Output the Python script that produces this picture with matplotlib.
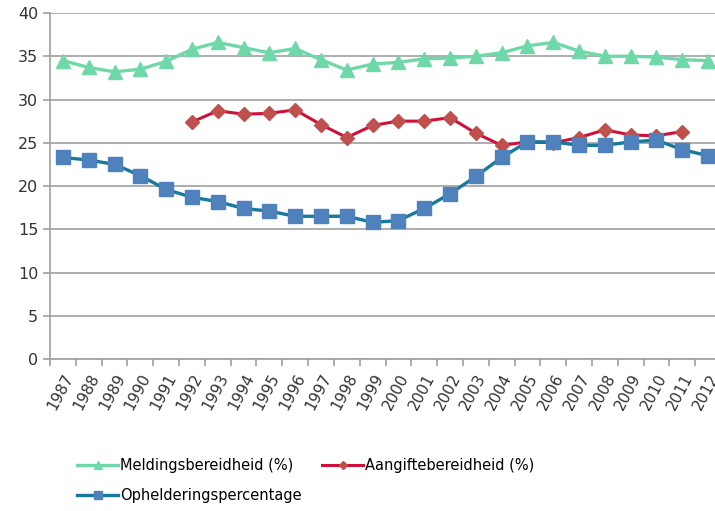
import matplotlib
matplotlib.use("Agg")
import matplotlib.pyplot as plt
import numpy as np

years = list(range(1987, 2013))

melding = [34.5, 33.7, 33.2, 33.5, 34.4, 35.8, 36.6, 36.0, 35.4, 35.9, 34.6, 33.4, 34.1,
           34.3, 34.7, 34.8, 35.0, 35.4, 36.2, 36.6, 35.6, 35.0, 35.0, 34.9, 34.6, 34.5]

# aangifte only from 1992 to 2011
aangifte_years = list(range(1992, 2012))
aangifte = [27.4, 28.7, 28.3, 28.4, 28.8, 27.1, 25.6, 27.0, 27.5, 27.5,
            27.9, 26.1, 24.7, 25.1, 25.0, 25.6, 26.5, 25.9, 25.8, 26.3]

opheldering = [23.3, 23.0, 22.5, 21.2, 19.6, 18.7, 18.2, 17.4, 17.1, 16.5, 16.5, 16.5, 15.8,
               16.0, 17.4, 19.1, 21.1, 23.3, 25.1, 25.1, 24.7, 24.7, 25.1, 25.3, 24.2, 23.5]

labels = ["Meldingsbereidheid (%)", "Aangiftebereidheid (%)", "Ophelderingspercentage"]

W, H = 715, 511
fig = plt.figure(figsize=(W / 100, H / 100), dpi=100)
ax = fig.add_axes([50 / W, 1 - 359 / H, 671 / W, 346 / H])

x = np.arange(len(years))
xa = np.array([years.index(y) for y in aangifte_years])

l1, = ax.plot(x, melding, color="#6fd8a8", lw=2.4, marker="^", ms=10,
              mfc="#6fd8a8", mec="#6fd8a8", label=labels[0], clip_on=False, zorder=3)
l2, = ax.plot(xa, aangifte, color="#d0103a", lw=2.2, marker="D", ms=7,
              mfc="#c0504d", mec="#c0504d", label=labels[1], clip_on=False, zorder=4)
l3, = ax.plot(x, opheldering, color="#17799b", lw=2.4, marker="s", ms=10,
              mfc="#4f81bd", mec="#4f81bd", label=labels[2], clip_on=False, zorder=5)

ax.set_xlim(-0.5, len(years) - 0.5)
ax.set_ylim(0, 40)
ax.set_yticks(range(0, 41, 5))
ax.yaxis.grid(True, color="#a0a0a0", lw=1.2)
ax.set_axisbelow(True)

ax.set_xticks(x)
ax.set_xticklabels([str(y) for y in years], rotation=62, ha="right",
                   rotation_mode="anchor", fontsize=11, color="#333333")
ax.tick_params(axis="x", length=0, pad=9)
ax.set_xticks(np.arange(-0.5, len(years), 1), minor=True)
ax.tick_params(axis="x", which="minor", length=5, color="#a0a0a0", width=1.2)
ax.tick_params(axis="y", length=5, color="#a0a0a0", width=1.2, labelsize=11.5,
               labelcolor="#333333")

for s in ["top", "right"]:
    ax.spines[s].set_visible(False)
for s in ["left", "bottom"]:
    ax.spines[s].set_color("#a0a0a0")
    ax.spines[s].set_linewidth(1.2)

fig.legend([l1, l3, l2], [labels[0], labels[2], labels[1]], ncol=2,
           loc="upper left", bbox_to_anchor=(64 / W, 1 - 445 / H),
           frameon=False, fontsize=10.5, handlelength=2.8, handletextpad=0.15,
           columnspacing=1.4, labelspacing=1.0, markerscale=0.6)

fig.savefig("out.png", dpi=100)
